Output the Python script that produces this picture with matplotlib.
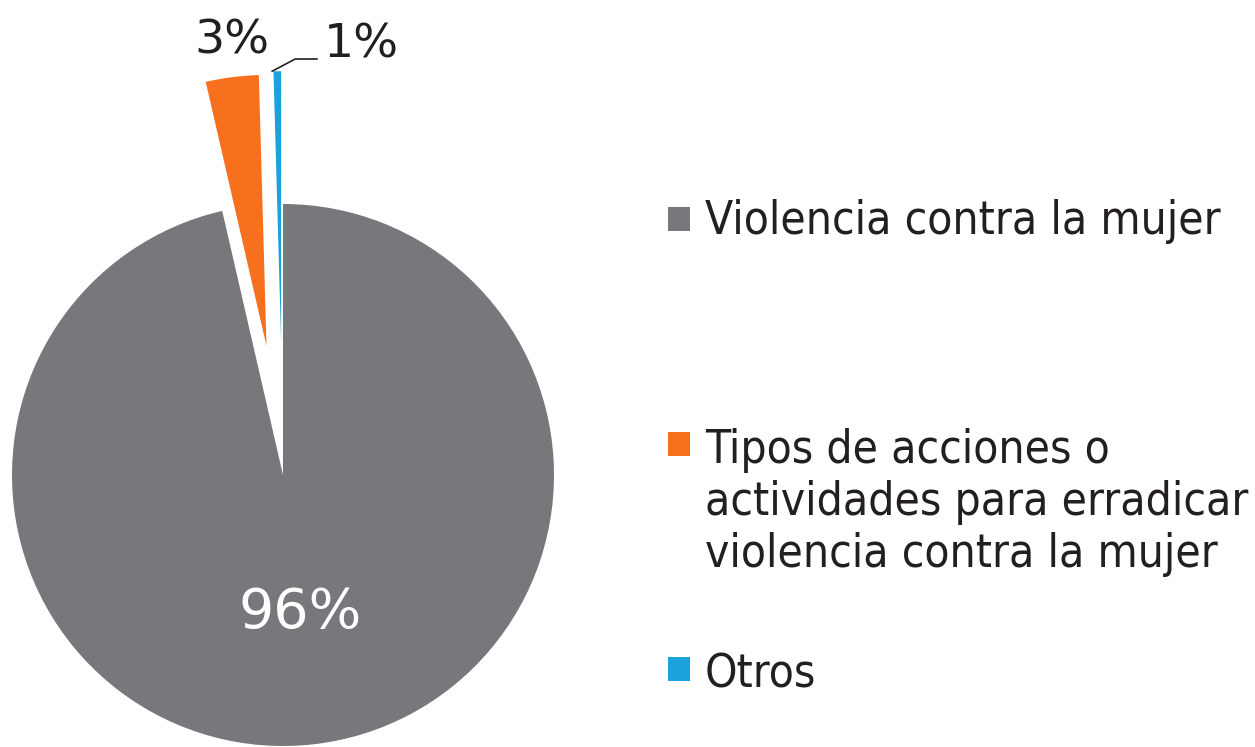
import matplotlib
matplotlib.use("Agg")
from matplotlib import pyplot as plt
from matplotlib.patches import Rectangle

# datos
categorias = ["Violencia contra la mujer",
              "Tipos de acciones o\nactividades para erradicar\nviolencia contra la mujer",
              "Otros"]
valores = [96.4, 3.15, 0.45]
etiquetas = ["96%", "3%", "1%"]
colores = ["#77787C", "#F7701E", "#1BA1DB"]

W, H = 1255, 747
fig = plt.figure(figsize=(W / 100, H / 100), dpi=100)

# ejes del pastel: centro en (283, 475) px, radio 271 px
R = 271.0
cx, cy = 283.0, 475.0
aw = 640.0
ax = fig.add_axes([0, 0, aw / W, 1])
wedges, _ = ax.pie(valores, colors=colores, startangle=90, counterclock=False,
                   explode=[0, 0.48, 0.49], radius=1,
                   wedgeprops=dict(linewidth=0))
ax.set_aspect("auto")
ax.set_xlim(-cx / R, (aw - cx) / R)
ax.set_ylim(-(H - cy) / R, cy / R)
ax.axis("off")

# etiquetas de porcentaje
ax.text(0.063, -0.51, etiquetas[0], color="white", fontsize=40,
        ha="center", va="center", family="DejaVu Sans")
ax.text(-0.19, 1.6, etiquetas[1], color="#231F20", fontsize=34,
        ha="center", va="center", family="DejaVu Sans")
ax.text(0.29, 1.585, etiquetas[2], color="#231F20", fontsize=34,
        ha="center", va="center", family="DejaVu Sans")
# linea guia de 1%
ax.plot([-0.04, 0.045, 0.125], [1.49, 1.535, 1.535], color="#231F20", lw=1.2)

# leyenda manual
ys_cuadro = [207, 432, 657]
ys_texto = [199, 428, 652]
for cat, col, yq, yt in zip(categorias, colores, ys_cuadro, ys_texto):
    fig.patches.append(Rectangle((668 / W, 1 - (yq + 24) / H), 22 / W, 24 / H,
                                 transform=fig.transFigure, facecolor=col,
                                 edgecolor="none"))
    fig.text(705 / W, 1 - yt / H, cat, fontsize=33, color="#231F20",
             ha="left", va="top", family="DejaVu Sans", fontstretch="condensed",
             linespacing=1.2)

fig.savefig("out.png", dpi=100)
